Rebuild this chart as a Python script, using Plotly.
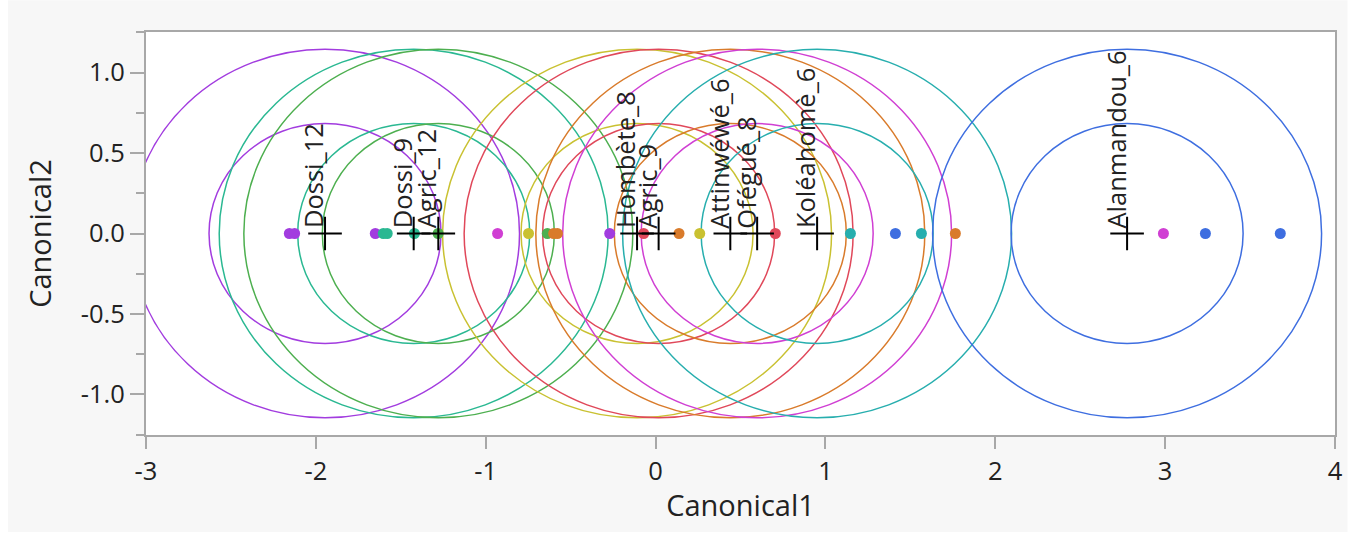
import plotly.graph_objects as go

# ---------------- data ----------------
groups = ["Dossi_12", "Dossi_9", "Agric_12", "Hombète_8", "Agric_9",
          "Attinwéwé_6", "Ofégué_8", "Koléahomè_6", "Alanmandou_6"]
centroid_x = [-1.946, -1.424, -1.279, -0.109, 0.018, 0.440, 0.598, 0.951, 2.776]
centroid_y = [0, 0, 0, 0, 0, 0, 0, 0, 0]
group_colors = ["#A23CDF", "#2AB892", "#4DAF4F", "#C9C131", "#E0485A",
                "#D97B2B", "#D03FD3", "#27AEAE", "#3E6EE0"]
inner_radius = 0.683
outer_radius = 1.145

obs_x = [-2.156, -2.125, -1.650, -1.603, -1.580, -1.420, -1.280, -0.930,
         -0.748, -0.637, -0.600, -0.578, -0.270, -0.070, 0.138, 0.260,
         0.705, 1.147, 1.412, 1.565, 1.765, 2.990, 3.237, 3.678]
obs_y = [0] * len(obs_x)
obs_group = ["Dossi_12", "Dossi_12", "Dossi_12", "Dossi_9", "Dossi_9", "Dossi_9",
             "Agric_12", "Ofégué_8", "Hombète_8", "Agric_12", "Attinwéwé_6",
             "Attinwéwé_6", "Dossi_12", "Agric_9", "Attinwéwé_6", "Hombète_8",
             "Agric_9", "Koléahomè_6", "Alanmandou_6", "Koléahomè_6",
             "Attinwéwé_6", "Ofégué_8", "Alanmandou_6", "Alanmandou_6"]

x_tickvals = [-3, -2, -1, 0, 1, 2, 3, 4]
x_ticktext = ["-3", "-2", "-1", "0", "1", "2", "3", "4"]
y_tickvals = [-1.0, -0.5, 0.0, 0.5, 1.0]
y_ticktext = ["-1.0", "-0.5", "0.0", "0.5", "1.0"]

# ---------------- figure ----------------
color_of = dict(zip(groups, group_colors))
fig = go.Figure()

shapes = []
for cx, cy, col in zip(centroid_x, centroid_y, group_colors):
    for r in (outer_radius, inner_radius):
        shapes.append(dict(type="circle", xref="x", yref="y",
                           x0=cx - r, x1=cx + r, y0=cy - r, y1=cy + r,
                           line=dict(color=col, width=1.5), layer="below"))

# white outer border strips around the grey panel
for x0, x1, y0, y1 in [(-0.2, -0.1161, -1, 2), (1.0105, 1.2, -1, 2),
                       (-1, 2, 1.0787, 1.3), (-1, 2, -0.5, -0.2407)]:
    shapes.append(dict(type="rect", xref="paper", yref="paper",
                       x0=x0, x1=x1, y0=y0, y1=y1,
                       fillcolor="white", line=dict(width=0), layer="above"))

fig.add_trace(go.Scatter(
    x=obs_x, y=obs_y, mode="markers",
    marker=dict(size=11, color=[color_of[g] for g in obs_group], line=dict(width=0)),
    hoverinfo="skip"))

fig.add_trace(go.Scatter(
    x=centroid_x, y=centroid_y, mode="markers",
    marker=dict(symbol="cross-thin", size=24, color="black",
                line=dict(width=2, color="black")),
    hoverinfo="skip"))

annotations = []
for g, cx, cy in zip(groups, centroid_x, centroid_y):
    annotations.append(dict(x=cx, y=cy, xref="x", yref="y", text=g,
                            textangle=-90, showarrow=False,
                            xanchor="center", yanchor="bottom",
                            xshift=-12, yshift=3,
                            font=dict(size=25.5, color="#222222", family="Open Sans")))

axis_gray = "#A8A8A8"
tick_font = dict(family="Open Sans", size=25.5, color="#222222")
fig.update_layout(
    width=1355, height=542,
    margin=dict(l=146, r=20, t=32, b=107),
    paper_bgcolor="#F7F7F7", plot_bgcolor="white",
    showlegend=False,
    font=dict(family="Open Sans", size=24, color="#222222"),
    shapes=shapes, annotations=annotations,
    xaxis=dict(range=[-3, 4], tickvals=x_tickvals, ticktext=x_ticktext,
               tickfont=tick_font,
               ticks="outside", ticklen=12, tickwidth=1.5, tickcolor=axis_gray,
               showline=True, linecolor=axis_gray, linewidth=2, mirror=True,
               showgrid=False, zeroline=False,
               title=dict(text="Canonical1", standoff=10)),
    yaxis=dict(range=[-1.252, 1.252], tickvals=y_tickvals, ticktext=y_ticktext,
               tickfont=tick_font,
               ticks="outside", ticklen=14, tickwidth=1.5, tickcolor=axis_gray,
               minor=dict(ticks="outside", ticklen=8, tickwidth=1.5,
                          tickcolor=axis_gray, dtick=0.25, tick0=0),
               showline=True, linecolor=axis_gray, linewidth=2, mirror=True,
               showgrid=False, zeroline=False,
               title=dict(text="Canonical2", standoff=21)),
)

fig.write_html("out.html")
